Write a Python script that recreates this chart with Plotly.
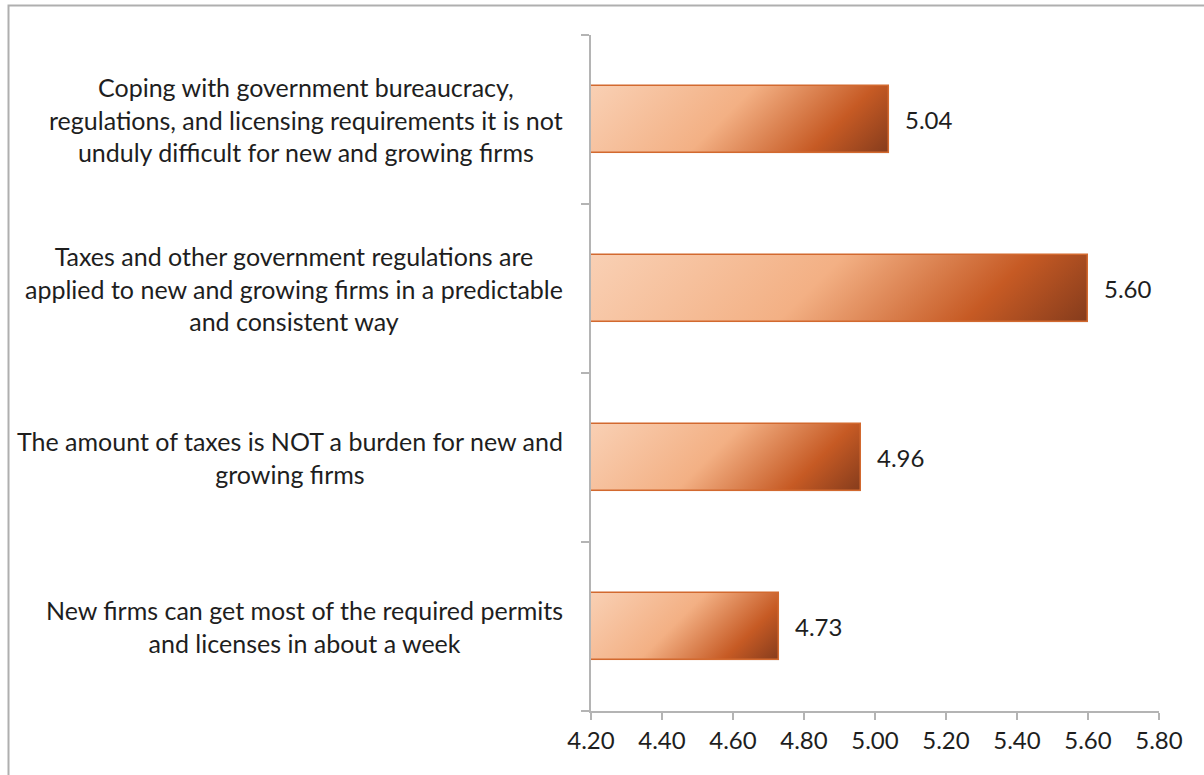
import base64
import plotly.graph_objects as go

# Survey statements, listed top to bottom, with their mean scores
categories = [
    "Coping with government bureaucracy,<br>regulations, and licensing requirements it is not<br>unduly difficult for new and growing firms",
    "Taxes and other government regulations are<br>applied to new and growing firms in a predictable<br>and consistent way",
    "The amount of taxes is NOT a burden for new and<br>growing firms",
    "New firms can get most of the required permits<br>and licenses in about a week",
]
scores = [5.04, 5.60, 4.96, 4.73]
x_ticks = [4.20, 4.40, 4.60, 4.80, 5.00, 5.20, 5.40, 5.60, 5.80]

AXIS_MIN, AXIS_MAX = 4.20, 5.80
BAR_WIDTH = 0.4

W, H = 1204, 775
M_L, M_R, M_T, M_B = 591, 45, 35, 64
plot_w = W - M_L - M_R
plot_h = H - M_T - M_B

FONT = "Lato"
TEXT = "#1E1E1E"
AXIS = "#B4B4B4"
OUTLINE = "#D2692F"

n = len(categories)
ypos = [n - 1 - i for i in range(n)]  # first statement on top


def gradient_svg(w_px, h_px):
    """Diagonal (45 degree) peach-to-brown fill for one bar."""
    t = (w_px + h_px) / 2
    svg = (
        f'<svg xmlns="http://www.w3.org/2000/svg" width="{w_px:.0f}" height="{h_px:.0f}" '
        f'viewBox="0 0 {w_px:.2f} {h_px:.2f}" preserveAspectRatio="none">'
        f'<defs><linearGradient id="g" gradientUnits="userSpaceOnUse" x1="0" y1="0" x2="{t:.2f}" y2="{t:.2f}">'
        '<stop offset="0" stop-color="#F9D0B4"/>'
        '<stop offset="0.45" stop-color="#F3B084"/>'
        '<stop offset="0.78" stop-color="#C65A24"/>'
        '<stop offset="1" stop-color="#843B1C"/>'
        '</linearGradient></defs>'
        f'<rect x="0" y="0" width="{w_px:.2f}" height="{h_px:.2f}" fill="url(#g)"/></svg>'
    )
    return "data:image/svg+xml;base64," + base64.b64encode(svg.encode()).decode()


fig = go.Figure()

# Bar outlines (fill comes from the gradient images underneath)
fig.add_trace(go.Bar(
    y=ypos,
    x=[s - AXIS_MIN for s in scores],
    base=AXIS_MIN,
    orientation="h",
    width=BAR_WIDTH,
    marker=dict(color="rgba(0,0,0,0)", line=dict(color=OUTLINE, width=1.5)),
    hovertext=[f"{s:.2f}" for s in scores],
    hoverinfo="text",
    showlegend=False,
))

px_per_x = plot_w / (AXIS_MAX - AXIS_MIN)
px_per_y = plot_h / n
images = []
for y, s in zip(ypos, scores):
    images.append(dict(
        source=gradient_svg((s - AXIS_MIN) * px_per_x, BAR_WIDTH * px_per_y),
        xref="x", yref="y",
        x=AXIS_MIN, y=y + BAR_WIDTH / 2,
        sizex=s - AXIS_MIN, sizey=BAR_WIDTH,
        xanchor="left", yanchor="top",
        sizing="stretch", layer="below",
    ))

annotations = []
# Category labels, lines centred, right-aligned against the axis
for y, label in zip(ypos, categories):
    annotations.append(dict(
        x=AXIS_MIN, y=y, xref="x", yref="y",
        text=label, showarrow=False,
        xanchor="right", yanchor="middle", align="center", xshift=-26,
        font=dict(family=FONT, size=25, color=TEXT),
    ))
# Value labels at the end of each bar
for y, s in zip(ypos, scores):
    annotations.append(dict(
        x=s, y=y, xref="x", yref="y",
        text=f"{s:.2f}", showarrow=False,
        xanchor="left", yanchor="middle", xshift=14,
        font=dict(family=FONT, size=24, color=TEXT),
    ))

# Chart-area frame
def px_x(p):
    return (p - M_L) / plot_w


def px_y(p):
    return 1 - (p - M_T) / plot_h


shapes = [dict(
    type="rect", xref="paper", yref="paper",
    x0=px_x(8.5), x1=px_x(1230), y0=px_y(5.5), y1=px_y(800),
    line=dict(color="#AFAFAF", width=2), fillcolor="rgba(0,0,0,0)", layer="below",
)]

fig.update_layout(
    width=W, height=H,
    margin=dict(l=M_L, r=M_R, t=M_T, b=M_B),
    paper_bgcolor="white", plot_bgcolor="white",
    images=images, annotations=annotations, shapes=shapes,
    bargap=0,
    font=dict(family=FONT, color=TEXT),
    xaxis=dict(
        range=[AXIS_MIN, AXIS_MAX],
        tickvals=x_ticks, ticktext=[f"{v:.2f}" for v in x_ticks],
        tickfont=dict(family=FONT, size=24, color=TEXT),
        showgrid=False, zeroline=False,
        showline=True, linecolor=AXIS, linewidth=1.5,
        ticks="outside", ticklen=7, tickcolor=AXIS, tickwidth=1.5,
    ),
    yaxis=dict(
        range=[-0.5, n - 0.5],
        tickvals=[i - 0.5 for i in range(n + 1)],
        showticklabels=False,
        showgrid=False, zeroline=False,
        showline=True, linecolor=AXIS, linewidth=1.5,
        ticks="outside", ticklen=8, tickcolor=AXIS, tickwidth=1.5,
    ),
)

fig.write_html("out.html")
